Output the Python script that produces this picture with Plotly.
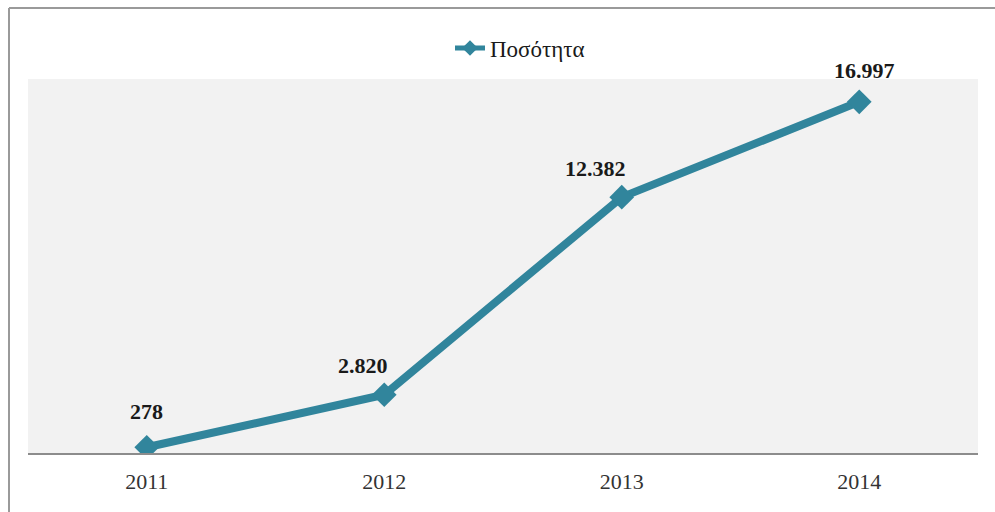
import plotly.graph_objects as go

years = ["2011", "2012", "2013", "2014"]
quantity = [278, 2820, 12382, 16997]
series_name = "Ποσότητα"

# label placement offsets in pixels (styling only)
label_dx = [0, -21, -26, 5]
label_dy = [36, 29, 29, 31]

W, H = 995, 512
ML, MR, MT, MB = 28, 17, 79, 59
pw, ph = W - ML - MR, H - MT - MB

line_color = "#31859C"
serif = "Liberation Serif, Times New Roman, serif"

fig = go.Figure()
fig.add_trace(go.Scatter(
    x=years, y=quantity, name=series_name, mode="lines+markers",
    line=dict(color=line_color, width=8),
    marker=dict(symbol="diamond", size=19, color=line_color),
))

# value labels with Greek thousands separator (x given as category index)
for i, v in enumerate(quantity):
    fig.add_annotation(
        x=i, y=v, text="<b>" + f"{v:,}".replace(",", ".") + "</b>",
        showarrow=False, xshift=label_dx[i], yshift=label_dy[i],
        font=dict(family=serif, size=22, color="#1a1a1a"),
    )

# outer chart frame (left and top edges)
fx = (9 - ML) / pw
fy = 1 + (MT - 8) / ph
fig.add_shape(type="line", xref="paper", yref="paper",
              x0=fx, x1=fx, y0=fy, y1=-0.3,
              line=dict(color="#9a9a9a", width=2))
fig.add_shape(type="line", xref="paper", yref="paper",
              x0=fx, x1=1.1, y0=fy, y1=fy,
              line=dict(color="#9a9a9a", width=2))

fig.update_layout(
    width=W, height=H,
    margin=dict(l=ML, r=MR, t=MT, b=MB),
    paper_bgcolor="white", plot_bgcolor="#F2F2F2",
    showlegend=True,
    legend=dict(orientation="h", x=(450 - ML) / pw, xanchor="left",
                y=1 + (MT - 48) / ph, yanchor="middle",
                font=dict(family=serif, size=23, color="#1a1a1a"),
                bgcolor="rgba(0,0,0,0)", itemwidth=30,
                itemsizing="constant"),
    xaxis=dict(type="category", range=[-0.5, 3.5], showgrid=False,
               zeroline=False, showline=True, linecolor="#8c8c8c",
               linewidth=2, ticks="", ticklabelstandoff=8,
               tickfont=dict(family=serif, size=22, color="#333333")),
    yaxis=dict(range=[0, 18100], showgrid=False, zeroline=False,
               showticklabels=False, showline=False),
)

fig.write_html("out.html")
